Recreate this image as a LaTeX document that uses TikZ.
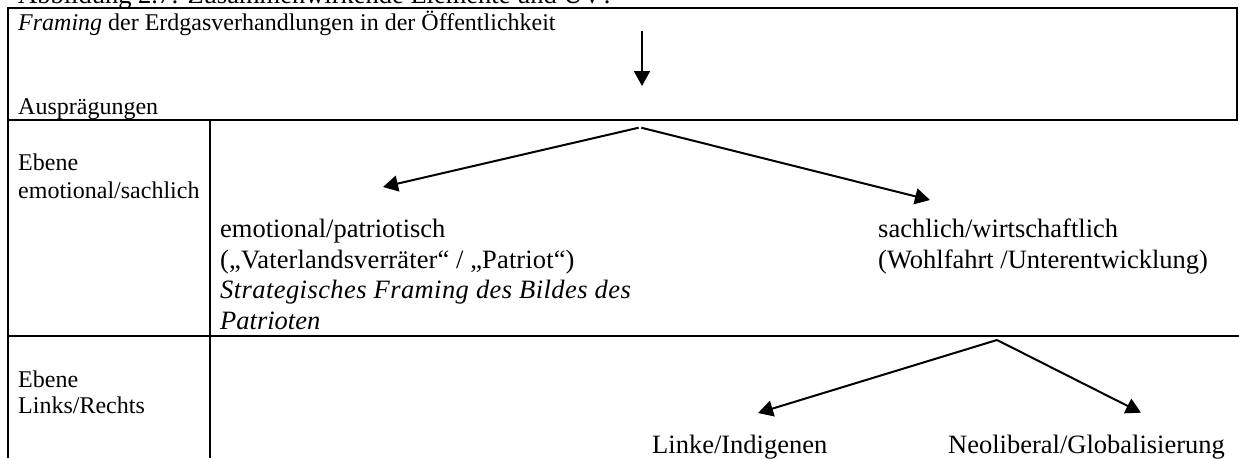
\documentclass[tikz,border=0pt]{standalone}
\usepackage{fontspec}
\setmainfont{Liberation Serif}
\usetikzlibrary{arrows.meta}
\tikzset{
  rule/.style={line width=2pt,black},
  arr/.style={line width=2pt,-{Triangle[length=15pt,width=16pt]}},
  big/.style={anchor=base west,inner sep=0pt,font=\fontsize{24}{28}\selectfont},
  bigger/.style={anchor=base west,inner sep=0pt,font=\fontsize{26.5}{30}\selectfont},
}
\begin{document}
\begin{tikzpicture}[x=1pt,y=-1pt]
\useasboundingbox (0,0) rectangle (1239,458);
\fill[white] (0,0) rectangle (1239,458);
% rules
\draw[rule] (7,8) -- (1238,8);
\draw[rule] (8,8) -- (8,458);
\draw[rule] (1237,8) -- (1237,121);
\draw[rule] (8,120) -- (1238,120);
\draw[rule] (8,336) -- (1239,336);
\draw[rule] (210,120) -- (210,458);
% texts
\node[bigger] (title) at (18,3) {Abbildung 2.7: Zusammenwirkende Elemente und UV?};
\node[big] (t1) at (18,30.5) {\textit{Framing} der Erdgasverhandlungen in der Öffentlichkeit};
\node[big] (t2) at (18,114) {Ausprägungen};
\node[big] (t3) at (18,170) {Ebene};
\node[big] (t4) at (18,198) {emotional/sachlich};
\node[bigger] (t5) at (220,237) {emotional/patriotisch};
\node[bigger] (t6) at (220,268) {\addfontfeatures{LetterSpace=0.5}(„Vaterlandsverräter“ / „Patriot“)};
\node[bigger] (t7) at (220,298) {\addfontfeatures{LetterSpace=1.6}\textit{Strategisches Framing des Bildes des}};
\node[bigger] (t8) at (220,329) {\textit{Patrioten}};
\node[bigger] (t9) at (878,237) {sachlich/wirtschaftlich};
\node[bigger] (t10) at (878,268) {(Wohlfahrt /Unterentwicklung)};
\node[big] (t11) at (18,387) {Ebene};
\node[big] (t12) at (18,413) {Links/Rechts};
\node[bigger] (t13) at (652,453) {Linke/Indigenen};
\node[bigger] (t14) at (948,453) {Neoliberal/Globalisierung};
% connectors
\coordinate (a0) at (642,30.5);
\coordinate (a1) at (642,86);
\draw[arr] (a0) -- (a1);
\coordinate (b0) at (638.7,127.7);
\coordinate (b1) at (383,187);
\draw[arr] (b0) -- (b1);
\coordinate (c0) at (641.3,127.7);
\coordinate (c1) at (930,200);
\draw[arr] (c0) -- (c1);
\coordinate (d0) at (997,340);
\coordinate (d1) at (758,413);
\draw[arr] (d0) -- (d1);
\coordinate (e1) at (1141,412.7);
\draw[arr] (d0) -- (e1);
\end{tikzpicture}
\end{document}
